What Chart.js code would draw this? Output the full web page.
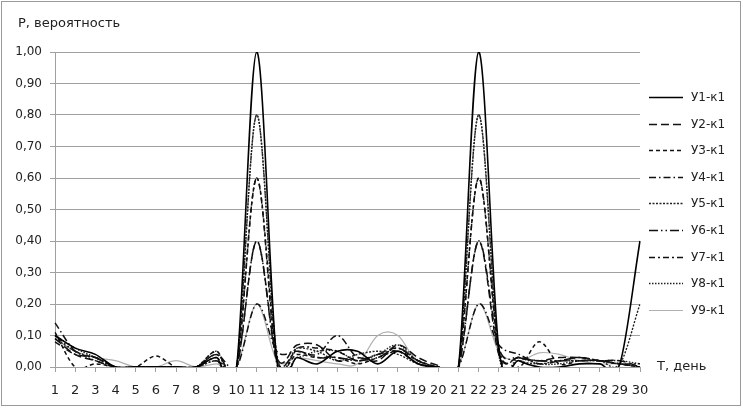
<!DOCTYPE html>
<html><head><meta charset="utf-8">
<script src="https://cdn.jsdelivr.net/npm/chart.js@4"></script>
<style>html,body{margin:0;padding:0;background:#fff}#w{width:743px;height:409px}</style>
</head><body><div id="w"><canvas id="c" width="743" height="409"></canvas></div>
<script>
const days = ['1','2','3','4','5','6','7','8','9','10','11','12','13','14','15','16','17','18','19','20','21','22','23','24','25','26','27','28','29','30'];
const yTicks = [0,0.1,0.2,0.3,0.4,0.5,0.6,0.7,0.8,0.9,1.0];
const seriesNames = ['У1-к1','У2-к1','У3-к1','У4-к1','У5-к1','У6-к1','У7-к1','У8-к1','У9-к1'];
const y1 = [0.10,0.06,0.04,0.00,0,0,0,0,0.03,0,1.00,0.02,0.03,0.01,0.05,0.05,0.01,0.05,0.01,0,0,1.00,0.06,0.02,0.00,0.00,0.01,0.01,0.01,0.40];
const y2 = [0.09,0.04,0.02,0,0,0,0,0,0.04,0,0.40,0.03,0.07,0.07,0.02,0.03,0.02,0.07,0.03,0.005,0,0.40,0.04,0.03,0.02,0.03,0.03,0.02,0.02,0.00];
const y3 = [0.11,0.00,0.01,0,0,0.035,0,0,0.05,0,0.60,0.03,0.04,0.03,0.03,0.01,0.03,0.05,0.02,0,0,0.60,0.05,0.00,0.08,0.01,0.02,0.02,0.01,0.00];
const y4 = [0.14,0.05,0.03,0,0,0,0,0,0.04,0,0.20,0.05,0.05,0.04,0.10,0.03,0.04,0.06,0.02,0,0,0.20,0.07,0.04,0.01,0.02,0.03,0.02,0.01,0.00];
const y5 = [0.09,0.05,0.02,0,0,0,0,0,0.02,0,0.80,0.04,0.06,0.05,0.02,0.04,0.05,0.04,0.01,0,0,0.80,0.05,0.02,0.01,0.02,0.02,0.02,0.01,0.20];
const y6 = [0.10,0.05,0.03,0,0,0,0,0,0.02,0,0.40,0.02,0.05,0.03,0.03,0.02,0.03,0.06,0.02,0,0,0.40,0.06,0.03,0.02,0.02,0.02,0.02,0.01,0.00];
const y7 = [0.08,0.04,0.03,0,0,0,0,0,0.03,0,0.60,0.01,0.06,0.06,0.05,0.02,0.04,0.05,0.01,0,0,0.60,0.06,0.03,0.02,0.02,0.03,0.02,0.01,0.01];
const y8 = [0.10,0.06,0.03,0,0,0,0,0,0.05,0,0.80,0.03,0.03,0.05,0.05,0.02,0.04,0.07,0.02,0,0,0.80,0.04,0.03,0.01,0.01,0.02,0.02,0.02,0.01];
const y9 = [0.09,0.05,0.03,0.02,0,0,0.02,0,0.01,0,0.20,0.02,0.03,0.02,0.01,0.01,0.10,0.10,0.01,0,0,0.20,0.05,0.02,0.045,0.04,0.02,0.01,0.01,0.00];

const allData = [y1,y2,y3,y4,y5,y6,y7,y8,y9];
const dashes = [[], [8,4], [4,3], [7,3,1.5,3], [2,1.5], [9,3,1.5,3,1.5,3], [6,3,2,3], [1.5,1.5], []];
const colors = ['#000','#111','#111','#111','#222','#111','#111','#222','#b0b0b0'];
const widths = [1.6,1.5,1.5,1.5,1.4,1.5,1.5,1.4,1.2];

const FONT = "'DejaVu Sans', sans-serif";

// Excel-style smoothing: uniform Catmull-Rom control points (1/6 of neighbour span)
const excelSmooth = {
  id: 'excelSmooth',
  beforeDatasetsDraw(chart) {
    chart.getSortedVisibleDatasetMetas().forEach(meta => {
      const line = meta.dataset;
      if (!line) return;
      line.updateControlPoints(chart.chartArea, 'x');
      const pts = meta.data;
      const n = pts.length;
      for (let i = 0; i < n; i++) {
        const p = pts[i];
        const prev = pts[Math.max(0, i - 1)];
        const next = pts[Math.min(n - 1, i + 1)];
        let dx, dy;
        if (i === 0 || i === n - 1) {
          dx = (next.x - prev.x) / 3; dy = (next.y - prev.y) / 3;
        } else {
          dx = (next.x - prev.x) / 6; dy = (next.y - prev.y) / 6;
        }
        p.cp1x = p.x - dx; p.cp1y = p.y - dy;
        p.cp2x = p.x + dx; p.cp2y = p.y + dy;
      }
      line._path = undefined;
    });
  }
};

const decor = {
  id: 'decor',
  beforeDraw(chart) {
    const ctx = chart.ctx;
    ctx.save();
    ctx.fillStyle = '#fff';
    ctx.fillRect(0,0,chart.width,chart.height);
    ctx.strokeStyle = '#9a9a9a';
    ctx.lineWidth = 1;
    ctx.strokeRect(1.5,1.5,739,404);
    ctx.restore();
  },
  afterDraw(chart) {
    const ctx = chart.ctx;
    ctx.save();
    ctx.fillStyle = '#222';
    ctx.textBaseline = 'middle';
    ctx.textAlign = 'left';
    ctx.font = "13px " + FONT;
    ctx.fillText('P, вероятность', 18, 24);
    ctx.fillText('T, день', 657, 367);
    ctx.font = "12px " + FONT;
    seriesNames.forEach((name, i) => {
      const y = Math.round(97 + i * 26.6) + 0.5;
      ctx.beginPath();
      ctx.setLineDash(dashes[i]);
      ctx.strokeStyle = colors[i];
      ctx.lineWidth = widths[i];
      ctx.moveTo(649, y);
      ctx.lineTo(683, y);
      ctx.stroke();
      ctx.setLineDash([]);
      ctx.fillStyle = '#222';
      ctx.fillText(name, 691, y);
    });
    ctx.restore();
  }
};

const datasets = allData.map((d, i) => ({
  label: seriesNames[i],
  data: d,
  borderColor: colors[i],
  borderWidth: widths[i],
  borderDash: dashes[i],
  pointRadius: 0,
  tension: 0.4,
  fill: false,
  order: i === 8 ? 10 : i
}));

new Chart(document.getElementById('c'), {
  type: 'line',
  data: { labels: days, datasets },
  options: {
    responsive: false,
    animation: false,
    devicePixelRatio: 1,
    layout: { padding: { top: 52, left: 8, right: 103, bottom: 8 } },
    plugins: { legend: { display: false }, tooltip: { enabled: false }, title: { display: false } },
    scales: {
      x: {
        type: 'category',
        offset: false,
        grid: { drawOnChartArea: false, drawTicks: true, tickLength: 5, color: '#a0a0a0' },
        border: { color: '#a0a0a0' },
        ticks: { autoSkip: false, maxRotation: 0, color: '#222', font: { family: FONT, size: 13 }, padding: 11 },
        afterFit(s) { s.height = 409 - 367 - 8; }
      },
      y: {
        min: 0, max: 1,
        afterBuildTicks(s) { s.ticks = yTicks.map(v => ({ value: v })); },
        grid: { color: '#a0a0a0', tickLength: 5, drawTicks: true },
        border: { color: '#a0a0a0' },
        ticks: { color: '#222', font: { family: FONT, size: 12 }, padding: 8,
          callback: v => Number(v).toFixed(2).replace('.', ',') },
        afterFit(s) { s.width = 55 - 8; }
      }
    }
  },
  plugins: [decor, excelSmooth]
});
</script>
</body></html>
